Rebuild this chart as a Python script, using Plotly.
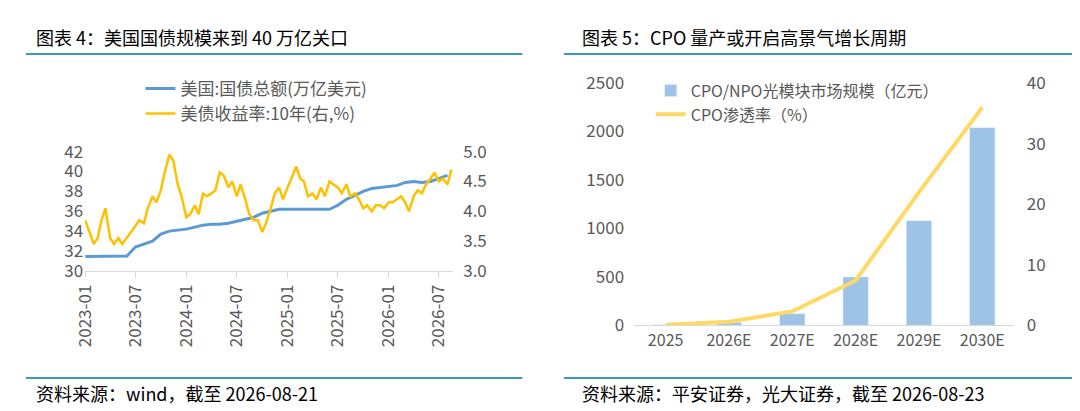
import plotly.graph_objects as go
import pandas as pd

# left panel: US debt (monthly) and 10Y yield (semi-monthly)
debt_dates = pd.date_range("2023-01-01", "2026-08-01", freq="MS")
debt_vals = [31.45, 31.45, 31.45, 31.45, 31.45, 31.5, 32.4, 32.7, 33.0, 33.7, 34.0, 34.1,
             34.2, 34.4, 34.6, 34.7, 34.7, 34.8, 35.0, 35.2, 35.4, 35.8, 36.0, 36.2,
             36.2, 36.2, 36.2, 36.2, 36.2, 36.2, 36.6, 37.2, 37.6, 38.0, 38.3, 38.4,
             38.5, 38.6, 38.9, 39.0, 38.9, 39.0, 39.3, 39.6]

yield_dates = sorted(list(pd.date_range("2023-01-01", "2026-08-01", freq="MS")) +
                     list(pd.date_range("2023-01-15", "2026-08-15", freq="MS") + pd.Timedelta(days=14)))
yield_vals = [3.85, 3.45, 3.55, 3.85, 4.05, 3.55, 3.45, 3.55, 3.45, 3.55, 3.65, 3.75,
              3.85, 3.80, 4.05, 4.25, 4.15, 4.35, 4.65, 4.95, 4.85, 4.45, 4.25, 3.90,
              3.95, 4.10, 3.95, 4.30, 4.25, 4.30, 4.35, 4.65, 4.60, 4.40, 4.50, 4.25,
              4.45, 4.20, 3.95, 3.85, 3.85, 3.65, 3.80, 4.05, 4.30, 4.40, 4.20, 4.40,
              4.55, 4.75, 4.55, 4.50, 4.25, 4.30, 4.20, 4.40, 4.25, 4.50, 4.45, 4.40,
              4.30, 4.45, 4.25, 4.30, 4.20, 4.05, 4.10, 4.00, 4.10, 4.10, 4.05, 4.15,
              4.15, 4.20, 4.25, 4.15, 4.00, 4.25, 4.35, 4.30, 4.45, 4.55, 4.65, 4.50,
              4.55, 4.45, 4.70, 4.75]

# right panel: CPO
years = ["2025", "2026E", "2027E", "2028E", "2029E", "2030E"]
market_size = [5, 30, 120, 500, 1080, 2040]
penetration = [0.1, 0.6, 2.3, 7.4, 22, 36]

FONT = "Noto Sans CJK SC"
GRAY = "#595959"
H = 411

fig = go.Figure()
fig.add_trace(go.Scatter(x=debt_dates, y=debt_vals, name="美国:国债总额(万亿美元)",
                         line=dict(color="#5B9BD5", width=3), xaxis="x", yaxis="y"))
fig.add_trace(go.Scatter(x=yield_dates, y=yield_vals, name="美债收益率:10年(右,%)",
                         line=dict(color="#FFC000", width=2.5), xaxis="x", yaxis="y2"))
fig.add_trace(go.Bar(x=years, y=market_size, name="CPO/NPO光模块市场规模（亿元）",
                     marker_color="#9DC3E6", width=0.4, xaxis="x3", yaxis="y3", legend="legend2"))
fig.add_trace(go.Scatter(x=years, y=penetration, name="CPO渗透率（%）", mode="lines",
                         line=dict(color="#FFD966", width=4), xaxis="x3", yaxis="y4", legend="legend2"))

ld = [1 - 265 / H, 1 - 138 / H]
rd = [1 - 323 / H, 1 - 65 / H]
tf = dict(family=FONT, size=17, color=GRAY)

fig.update_layout(
    width=1080, height=411, margin=dict(l=0, r=0, t=0, b=0),
    paper_bgcolor="white", plot_bgcolor="white",
    font=dict(family=FONT, color=GRAY),
    xaxis=dict(domain=[64 / 1080, 437 / 1080], anchor="y", type="date",
               range=["2023-01-01", "2026-08-22"], dtick="M6", tick0="2023-01-01",
               tickformat="%Y-%m", tickangle=-90, showgrid=False, showline=True,
               linecolor="#d9d9d9", ticks="outside", tickcolor="#d9d9d9", ticklen=6, tickfont=tf),
    yaxis=dict(domain=ld, range=[30, 42], dtick=2, showgrid=False, tickfont=tf, anchor="free", position=62 / 1080),
    yaxis2=dict(domain=ld, range=[3, 5], dtick=0.5, tickformat=".1f", overlaying="y", side="right",
                showgrid=False, tickfont=tf, anchor="free", position=446 / 1080),
    xaxis3=dict(domain=[620 / 1080, 1005 / 1080], anchor="y3", showline=True, linecolor="#d9d9d9",
                tickfont=dict(family=FONT, size=16, color=GRAY)),
    yaxis3=dict(domain=rd, range=[0, 2500], dtick=500, showgrid=False, tickfont=tf, anchor="free",
                position=610 / 1080),
    yaxis4=dict(domain=rd, range=[0, 40], dtick=10, overlaying="y3", side="right", showgrid=False,
                tickfont=tf, anchor="free", position=1017 / 1080),
    legend=dict(x=120 / 1080, y=1 - 52 / H, xanchor="left", yanchor="top", bgcolor="rgba(0,0,0,0)",
                font=dict(family=FONT, size=17, color=GRAY), tracegroupgap=4),
    legend2=dict(x=637 / 1080, y=1 - 55 / H, xanchor="left", yanchor="top", bgcolor="rgba(0,0,0,0)",
                 font=dict(family=FONT, size=16, color=GRAY)),
    showlegend=True,
)

for x0, x1 in [(4, 507), (549, 1075)]:
    for yy in (34, 379):
        fig.add_shape(type="line", xref="paper", yref="paper", x0=x0 / 1080, x1=x1 / 1080,
                      y0=1 - yy / H, y1=1 - yy / H, line=dict(color="#0070C0", width=1.5))

texts = [(16, 16, "图表 4：美国国债规模来到 40 万亿关口"),
         (20, 16, "图表 5：CPO 量产或开启高景气增长周期"),
         (16, 395, "资料来源：wind，截至 2026-08-21"),
         (20, 395, "资料来源：平安证券，光大证券，截至 2026-08-23")]
for i, (x, y, t) in enumerate(texts):
    base = 0 if i % 2 == 0 else 549
    fig.add_annotation(x=(base + x - 4) / 1080, y=1 - y / H, xref="paper", yref="paper",
                       text=t, showarrow=False, xanchor="left", yanchor="middle",
                       font=dict(family=FONT, size=18, color="black"))

fig.write_html("out.html")
